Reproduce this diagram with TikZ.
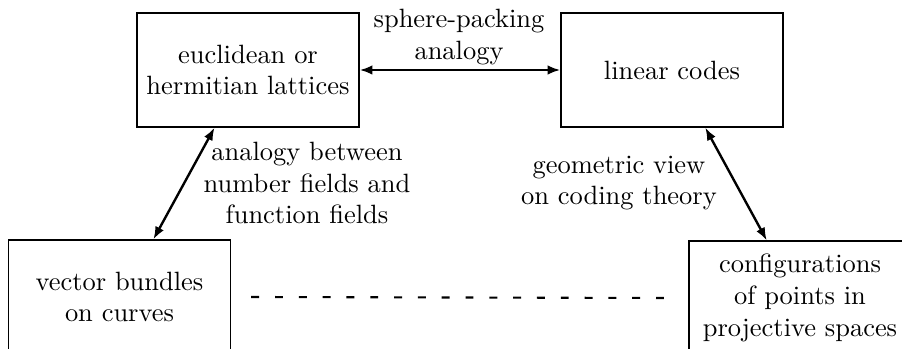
\documentclass[tikz,border=0pt]{standalone}
\usetikzlibrary{arrows.meta,calc}
\begin{document}
\begin{tikzpicture}[x=0.378pt,y=-0.378pt,
  box/.style={draw,line width=0.5pt,minimum width=83.9pt,minimum height=43.1pt,align=center,inner sep=0pt},
  lbl/.style={align=center,inner sep=0pt},
  arr/.style={{Latex[length=4.8pt,width=3.6pt]}-{Latex[length=4.8pt,width=3.6pt]},line width=0.9pt}]
\useasboundingbox (0,0) rectangle (902,349);
\clip (0,0) rectangle (902,349);
\node[box] (tl) at (248,70) {euclidean or\\hermitian lattices};
\node[box] (tr) at (672,70) {linear codes};
\node[box] (bl) at (119.5,297) {vector bundles\\on curves};
\node[box] (br) at (800,298) {configurations\\of points in\\projective spaces};
\node[lbl] (sp) at (459,37) {sphere-packing\\analogy};
\node[lbl] (an) at (307,183) {analogy between\\number fields and\\function fields};
\node[lbl] (geo) at (619,183) {geometric view\\on coding theory};
\draw[arr] (tl.east) -- (tr.west);
\draw[arr] ($(tl.south west)!0.35!(tl.south east)$) -- ($(bl.north west)!0.652!(bl.north east)$);
\draw[arr] ($(tr.south west)!0.649!(tr.south east)$) -- ($(br.north west)!0.351!(br.north east)$);
\draw[line width=0.8pt,dash pattern=on 3pt off 6pt] ([xshift=7.6pt]bl.east) -- ([xshift=-9pt]br.west);
\end{tikzpicture}
\end{document}
